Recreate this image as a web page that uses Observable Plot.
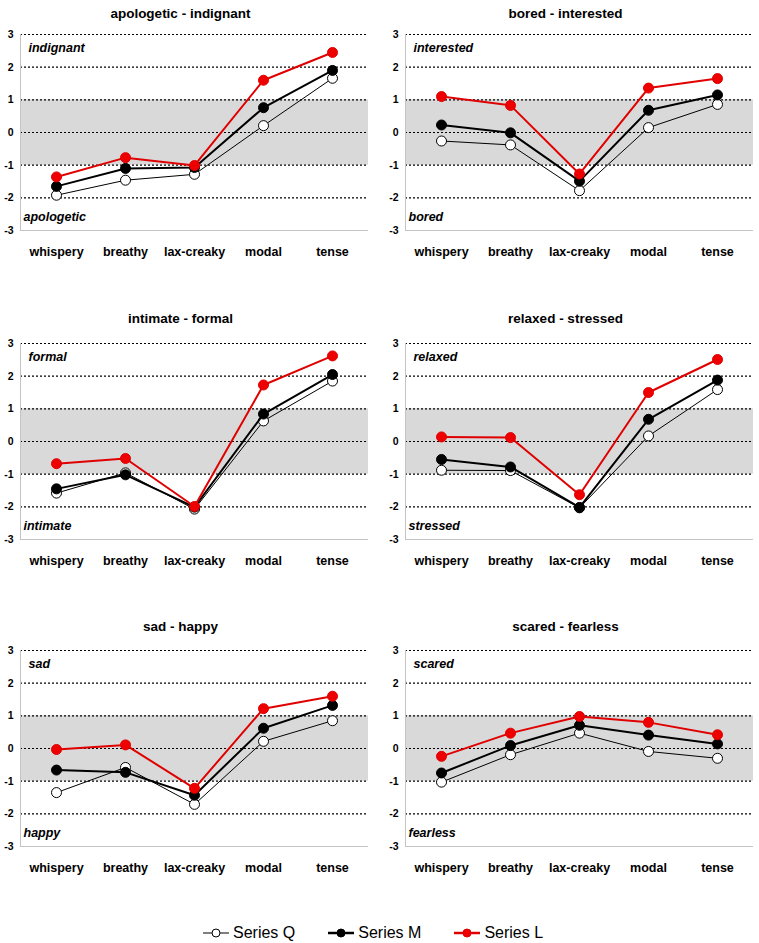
<!DOCTYPE html>
<html><head><meta charset="utf-8">
<script src="https://cdn.jsdelivr.net/npm/d3@7"></script>
<script src="https://cdn.jsdelivr.net/npm/@observablehq/plot@0.6"></script>
<style>
body{margin:0;background:#fff;font-family:"Liberation Sans",Arial,sans-serif;}
#root{position:relative;width:759px;height:943px;overflow:hidden;}
.panel{position:absolute;}
.legend{position:absolute;top:923px;left:203px;display:flex;align-items:center;font-size:16px;height:20px;color:#000;}
.legend .item{display:flex;align-items:center;margin-right:33px;}
.legend svg{margin-right:4px;}
</style></head><body><div id="root"></div>
<script>
const categories = ["whispery", "breathy", "lax-creaky", "modal", "tense"];
const panelTitles = ["apologetic - indignant", "bored - interested", "intimate - formal", "relaxed - stressed", "sad - happy", "scared - fearless"];
const topLabels = ["indignant", "interested", "formal", "relaxed", "sad", "scared"];
const bottomLabels = ["apologetic", "bored", "intimate", "stressed", "happy", "fearless"];
const yTicks = [-3, -2, -1, 0, 1, 2, 3];
const gridValues = [-2, -1, 0, 1, 2, 3];
const bandRange = [{lo: -1, hi: 1}];
const seriesNames = ["Series Q", "Series M", "Series L"];
// values per panel, per category
const seriesQ = [
  [-1.92, -1.46, -1.28, 0.21, 1.66],
  [-0.26, -0.38, -1.78, 0.15, 0.86],
  [-1.58, -0.96, -2.07, 0.63, 1.85],
  [-0.88, -0.89, -2.03, 0.17, 1.59],
  [-1.35, -0.58, -1.71, 0.22, 0.85],
  [-1.03, -0.19, 0.47, -0.09, -0.30]
];
const seriesM = [
  [-1.65, -1.10, -1.07, 0.76, 1.90],
  [0.23, -0.01, -1.49, 0.68, 1.15],
  [-1.45, -1.02, -2.01, 0.84, 2.05],
  [-0.55, -0.78, -2.02, 0.68, 1.88],
  [-0.66, -0.73, -1.43, 0.62, 1.32],
  [-0.75, 0.09, 0.71, 0.41, 0.14]
];
const seriesL = [
  [-1.36, -0.77, -1.01, 1.60, 2.45],
  [1.10, 0.83, -1.27, 1.36, 1.65],
  [-0.68, -0.52, -1.99, 1.73, 2.62],
  [0.14, 0.12, -1.63, 1.50, 2.51],
  [-0.03, 0.11, -1.22, 1.22, 1.60],
  [-0.24, 0.47, 0.98, 0.80, 0.42]
];
const labelValues = [2.6, -2.6];

const seriesValues = [seriesQ, seriesM, seriesL];
const seriesStyle = [
  {stroke: "#000", lineWidth: 1, fill: "#fff"},
  {stroke: "#000", lineWidth: 2, fill: "#000"},
  {stroke: "#e00000", lineWidth: 2, fill: "#ee0000"}
];

const root = document.getElementById("root");
const rowTops = [0, 309, 616];
const titleDy = [-26, -30, -29];
const font = "'Liberation Sans', Arial, sans-serif";

panelTitles.forEach((title, i) => {
  const col = i % 2, row = Math.floor(i / 2);
  const rows = [];
  seriesNames.forEach((s, k) => categories.forEach((c, j) => rows.push({series: s, cat: c, value: seriesValues[k][i][j]})));
  const marks = [
    Plot.rect(bandRange, {y1: "lo", y2: "hi", fill: "#d9d9d9"}),
    Plot.ruleY(gridValues, {stroke: "#000", strokeDasharray: "2,2", strokeWidth: 1.2}),
    Plot.ruleY([-3], {stroke: "#c4c4c4", strokeWidth: 1}),
    Plot.frame({anchor: "left", stroke: "#c4c4c4"}),
    Plot.axisY({ticks: yTicks, tickSize: 0, tickPadding: 7, tickFormat: d => String(d), fontSize: 10.5, fontWeight: "bold", label: null}),
    Plot.axisX({tickSize: 0, tickPadding: 17, fontSize: 12.5, fontWeight: "bold", label: null})
  ];
  seriesNames.forEach((s, k) => {
    const st = seriesStyle[k];
    marks.push(Plot.line(rows, {filter: d => d.series === s, x: "cat", y: "value", stroke: st.stroke, strokeWidth: st.lineWidth}));
    marks.push(Plot.dot(rows, {filter: d => d.series === s, x: "cat", y: "value", r: 5, fill: st.fill, stroke: st.stroke, strokeWidth: 1}));
  });
  marks.push(Plot.text([title], {frameAnchor: "top", dy: titleDy[row], dx: -14, fontSize: 13.5, fontWeight: "bold"}));
  marks.push(Plot.text([topLabels[i]], {frameAnchor: "left", y: [labelValues[0]], dx: 8, textAnchor: "start", fontSize: 12.5, fontWeight: "bold", fontStyle: "italic"}));
  marks.push(Plot.text([bottomLabels[i]], {frameAnchor: "left", y: [labelValues[1]], dx: 3, textAnchor: "start", fontSize: 12.5, fontWeight: "bold", fontStyle: "italic"}));
  const plot = Plot.plot({
    width: 379, height: 270,
    marginLeft: col === 0 ? 20 : 26, marginRight: col === 0 ? 11 : 5,
    marginTop: 34, marginBottom: 40,
    x: {type: "point", domain: categories, padding: 0.5},
    y: {domain: [-3, 3]},
    style: {fontFamily: font, color: "#000", background: "transparent", overflow: "visible"},
    marks
  });
  const div = document.createElement("div");
  div.className = "panel";
  div.style.left = (col === 0 ? 0 : 379) + "px";
  div.style.top = rowTops[row] + "px";
  div.appendChild(plot);
  root.appendChild(div);
});

// legend
const legend = document.createElement("div");
legend.className = "legend";
seriesNames.forEach((s, k) => {
  const st = seriesStyle[k];
  const item = document.createElement("div");
  item.className = "item";
  const ns = "http://www.w3.org/2000/svg";
  const svg = document.createElementNS(ns, "svg");
  svg.setAttribute("width", 26); svg.setAttribute("height", 12);
  const ln = document.createElementNS(ns, "line");
  ln.setAttribute("x1", 0); ln.setAttribute("x2", 26); ln.setAttribute("y1", 6); ln.setAttribute("y2", 6);
  ln.setAttribute("stroke", st.stroke); ln.setAttribute("stroke-width", st.lineWidth === 1 ? 1 : 2.5);
  const c = document.createElementNS(ns, "circle");
  c.setAttribute("cx", 13); c.setAttribute("cy", 6); c.setAttribute("r", 4);
  c.setAttribute("fill", st.fill); c.setAttribute("stroke", st.stroke);
  svg.appendChild(ln); svg.appendChild(c);
  const t = document.createElement("span");
  t.textContent = s;
  item.appendChild(svg); item.appendChild(t);
  legend.appendChild(item);
});
root.appendChild(legend);
</script>
</body></html>
